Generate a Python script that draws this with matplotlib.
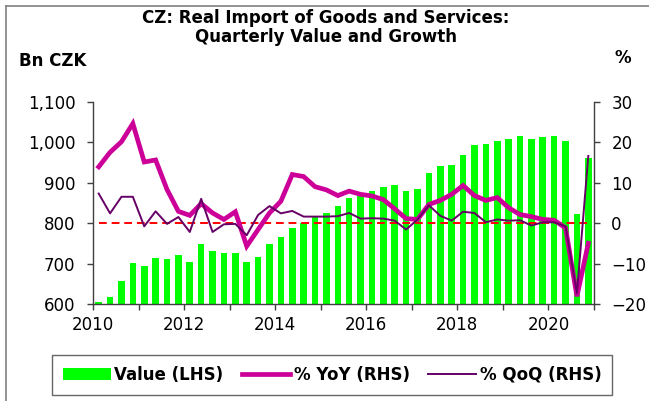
import matplotlib
matplotlib.use("Agg")
import matplotlib.pyplot as plt
from matplotlib.patches import Patch
from matplotlib.lines import Line2D
from matplotlib.transforms import ScaledTranslation
import numpy as np

# ---- data (2010Q1 .. 2020Q4) ----
value_bn_czk = [605, 617, 658, 701, 694, 714, 711, 722, 705, 748, 730, 726,
                725, 703, 717, 748, 766, 788, 800, 815, 826, 841, 863, 867,
                880, 889, 893, 880, 885, 925, 941, 943, 969, 993, 995, 1003,
                1007, 1015, 1009, 1012, 1015, 1002, 823, 960]
yoy_pct = [13.9, 17.5, 20.1, 24.6, 15.1, 15.6, 8.3, 2.9, 1.9, 4.8, 2.5, 0.9,
           2.8, -5.7, -1.6, 2.5, 5.4, 12.0, 11.5, 9.0, 8.2, 6.8, 7.9, 7.1,
           6.7, 5.8, 3.5, 1.1, 0.9, 4.6, 5.6, 7.1, 9.3, 6.8, 5.6, 6.3,
           3.8, 2.1, 1.6, 0.9, 0.7, -1.2, -18.1, -5.0]
qoq_pct = [7.3, 2.4, 6.5, 6.5, -0.8, 2.9, -0.2, 1.5, -2.2, 6.0, -2.2, -0.3,
           -0.2, -3.0, 2.0, 4.2, 2.4, 3.0, 1.6, 1.6, 1.6, 1.7, 2.5, 1.1,
           1.2, 1.1, 0.6, -1.6, 0.9, 4.4, 1.8, 0.6, 2.8, 2.5, 0.2, 0.9,
           0.6, 0.7, -0.6, 0.2, 0.2, -0.8, -17.3, 16.6]
first_year = 2010
last_year = 2021
left_ticks = [600, 700, 800, 900, 1000, 1100]
left_tick_labels = ["600", "700", "800", "900", "1,000", "1,100"]
right_ticks = [-20, -10, 0, 10, 20, 30]

plt.rcParams['font.family'] = ['DejaVu Sans']

fig = plt.figure(figsize=(6.49, 4.01), dpi=100)
ax = fig.add_axes([93/649, 1 - 304/401, (594 - 93)/649, (304 - 101.7)/401])
ax2 = ax.twinx()

n = len(value_bn_czk)
x = np.arange(n)

ax.bar(x, value_bn_czk, width=0.58, color='#00FF00', zorder=2)
ax.set_ylim(600, 1100)
ax.set_xlim(-0.5, n - 0.5)
ax.set_yticks(left_ticks)
ax.set_yticklabels(left_tick_labels)

ax2.plot([x[0], x[-1]], [0, 0], color='#FF0000', lw=1.4, ls=(0, (4, 2.5)), zorder=2)
ax2.plot(x, yoy_pct, color='#CC0099', lw=3.4, zorder=3, solid_joinstyle='miter')
ax2.plot(x, qoq_pct, color='#660066', lw=1.4, zorder=4)
ax2.set_ylim(-20, 30)
ax2.set_yticks(right_ticks)

# x ticks at year boundaries
years = list(range(first_year, last_year + 1))
year_pos = [-0.5 + 4 * (yr - first_year) for yr in years]
ax.set_xticks(year_pos)
ax.set_xticklabels([str(yr) if (yr % 2 == 0 and yr < last_year) else "" for yr in years])
off = ScaledTranslation(4/100, 0, fig.dpi_scale_trans)
for lab in ax.get_xticklabels():
    lab.set_transform(lab.get_transform() + off)

axis_col = '#404040'
for a in (ax, ax2):
    for s in a.spines.values():
        s.set_color(axis_col)
        s.set_linewidth(1.0)
ax.spines['top'].set_visible(False)
ax.spines['right'].set_visible(False)
ax2.spines['top'].set_visible(False)
ax2.spines['left'].set_visible(False)
ax2.spines['bottom'].set_visible(False)

ax.tick_params(axis='y', direction='out', length=4.5, width=1, color=axis_col,
               labelsize=12, pad=8.2)
ax.tick_params(axis='x', direction='out', length=4, width=1, color=axis_col,
               labelsize=12, pad=4.5)
ax2.tick_params(axis='y', direction='out', length=4.5, width=1, color=axis_col,
                labelsize=12, pad=8)

# titles and axis unit labels
fig.text(0.502, 1 - 27.5/401, "CZ: Real Import of Goods and Services:\nQuarterly Value and Growth",
         ha='center', va='center', fontsize=12, fontweight='bold', linespacing=1.12)
fig.text(53/649, 1 - 61/401, "Bn CZK", ha='center', va='center', fontsize=12, fontweight='bold')
fig.text(623/649, 1 - 58/401, "%", ha='center', va='center', fontsize=12, fontweight='bold')

# legend
handles = [Patch(facecolor='#00FF00', edgecolor='none'),
           Line2D([], [], color='#CC0099', lw=3.4),
           Line2D([], [], color='#660066', lw=1.4)]
labels = ["Value (LHS)", "% YoY (RHS)", "% QoQ (RHS)"]
leg = fig.legend(handles, labels, loc='center', bbox_to_anchor=(332/649, 1 - 375/401),
                 ncol=3, frameon=True, fancybox=False, edgecolor='#404040',
                 prop={'weight': 'bold', 'size': 12}, handlelength=2.9,
                 handleheight=0.7, handletextpad=0.2, columnspacing=1.1,
                 borderpad=0.65, borderaxespad=0)
leg.get_frame().set_linewidth(1.0)

# outer frame lines (left and top)
fig.add_artist(Line2D([6/649, 6/649], [0, 1 - 6/401], color='#808080', lw=1.2,
                      transform=fig.transFigure))
fig.add_artist(Line2D([6/649, 1], [1 - 6/401, 1 - 6/401], color='#808080', lw=1.2,
                      transform=fig.transFigure))

fig.savefig("out.png", dpi=100)
